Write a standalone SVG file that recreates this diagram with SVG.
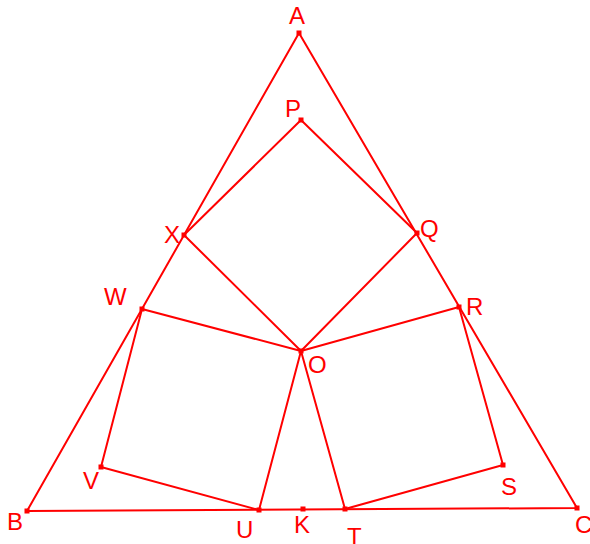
<svg xmlns="http://www.w3.org/2000/svg" width="590" height="544" viewBox="0 0 590 544">
<style>
.l{stroke:#ff0000;stroke-width:2;fill:none;stroke-linejoin:round}
.p{fill:#ff0000}
text{font-family:"Liberation Sans",Arial,sans-serif;font-size:24px;fill:#ff0000}
</style>
<rect width="590" height="544" fill="#ffffff"/>
<g id="connectors">
<polygon class="l" points="299,33 27,511 577,508"/>
<polygon class="l" points="301,120 184,235 301,351 417,233"/>
<polygon class="l" points="142,309 301,351 259,510 101,467"/>
<polygon class="l" points="459,307 301,351 345,509 503,465"/>
</g>
<g id="A"><rect class="p" x="296.5" y="30.5" width="5" height="5"/><text x="289" y="24">A</text></g>
<g id="P"><rect class="p" x="298.5" y="117.5" width="5" height="5"/><text x="285" y="117">P</text></g>
<g id="X"><rect class="p" x="181.5" y="232.5" width="5" height="5"/><text x="164" y="243">X</text></g>
<g id="Q"><rect class="p" x="414.5" y="230.5" width="5" height="5"/><text x="420" y="237">Q</text></g>
<g id="W"><rect class="p" x="139.5" y="306.5" width="5" height="5"/><text x="104" y="305">W</text></g>
<g id="R"><rect class="p" x="456.5" y="304.5" width="5" height="5"/><text x="466" y="315">R</text></g>
<g id="O"><rect class="p" x="298.5" y="348.5" width="5" height="5"/><text x="308" y="373">O</text></g>
<g id="V"><rect class="p" x="98.5" y="464.5" width="5" height="5"/><text x="83" y="489">V</text></g>
<g id="S"><rect class="p" x="500.5" y="462.5" width="5" height="5"/><text x="501" y="495">S</text></g>
<g id="B"><rect class="p" x="24.5" y="508.5" width="5" height="5"/><text x="7" y="530">B</text></g>
<g id="U"><rect class="p" x="256.5" y="507.5" width="5" height="5"/><text x="236" y="538">U</text></g>
<g id="K"><rect class="p" x="300.5" y="506.5" width="5" height="5"/><text x="294" y="533">K</text></g>
<g id="T"><rect class="p" x="342.5" y="506.5" width="5" height="5"/><text x="347" y="545">T</text></g>
<g id="C"><rect class="p" x="574.5" y="505.5" width="5" height="5"/><text x="575" y="533">C</text></g>
</svg>
